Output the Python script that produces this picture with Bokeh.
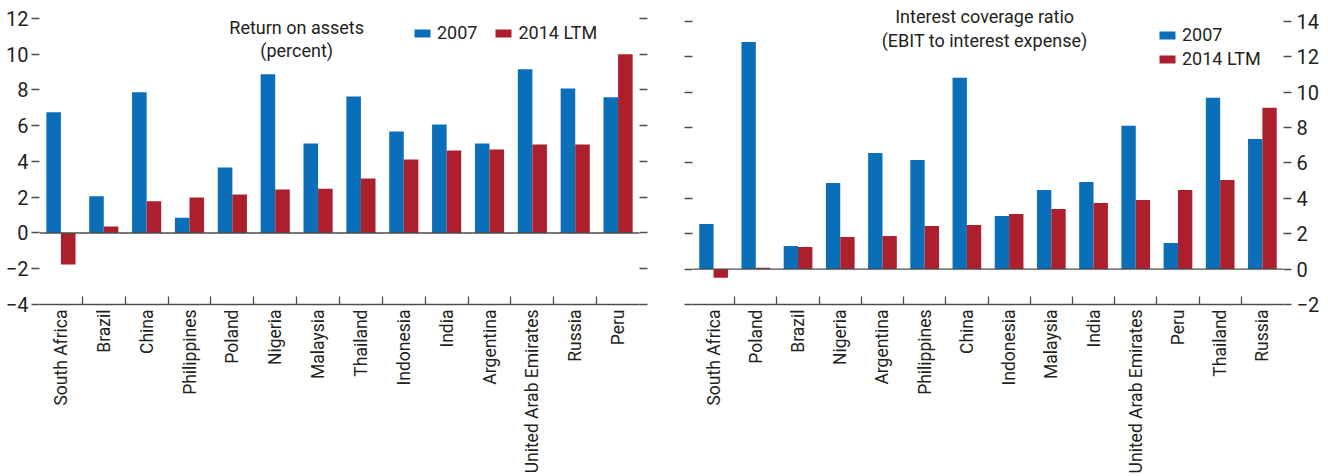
import numpy as np
from bokeh.plotting import figure
from bokeh.layouts import row
from bokeh.models import Range1d, LinearAxis, FixedTicker, Span, Label, Legend, LegendItem
from bokeh.embed import file_html
from bokeh.resources import INLINE

# ---------------- data ----------------
roa_countries = ["South Africa", "Brazil", "China", "Philippines", "Poland", "Nigeria", "Malaysia",
                 "Thailand", "Indonesia", "India", "Argentina", "United Arab Emirates", "Russia", "Peru"]
roa_2007 = [6.75, 2.05, 7.87, 0.86, 3.66, 8.88, 5.01, 7.64, 5.68, 6.07, 5.01, 9.16, 8.09, 7.59]
roa_2014 = [-1.76, 0.37, 1.77, 1.98, 2.15, 2.43, 2.48, 3.05, 4.11, 4.61, 4.67, 4.95, 4.95, 10.0]
roa_ticks = [-4, -2, 0, 2, 4, 6, 8, 10, 12]

icr_countries = ["South Africa", "Poland", "Brazil", "Nigeria", "Argentina", "Philippines", "China",
                 "Indonesia", "Malaysia", "India", "United Arab Emirates", "Peru", "Thailand", "Russia"]
icr_2007 = [2.55, 12.84, 1.30, 4.87, 6.57, 6.17, 10.82, 3.00, 4.47, 4.93, 8.10, 1.47, 9.68, 7.36]
icr_2014 = [-0.49, 0.08, 1.25, 1.81, 1.87, 2.43, 2.49, 3.11, 3.40, 3.74, 3.91, 4.47, 5.04, 9.12]
icr_ticks = [-2, 0, 2, 4, 6, 8, 10, 12, 14]

series_labels = ["2007", "2014 LTM"]

# ---------------- style ----------------
BLUE = "#0A6FB8"
RED = "#AC1F2D"
TXT = "#231f20"
AX = "#4d4d4d"
FONT = "Roboto"
FS = "18px"


def minus(v):
    return ("\u2212%d" % abs(v)) if v < 0 else "%d" % v


def make_panel(countries, v07, v14, ticks, y_end, w, h, top, bottom, left, right, label_side):
    n = len(countries)
    p = figure(width=w, height=h, title=None,
               x_range=Range1d(0, n), y_range=Range1d(ticks[0], y_end),
               x_axis_location=None, y_axis_location=None,
               output_backend="svg", toolbar_location=None,
               min_border_top=top, min_border_left=left, min_border_right=right,
               min_border_bottom=bottom)
    p.outline_line_color = None
    p.grid.visible = False
    p.background_fill_color = "white"
    p.border_fill_color = "white"

    centers = np.arange(n) + 0.5
    r07 = p.vbar(x=centers - 0.17, top=v07, bottom=0, width=0.34,
                 fill_color=BLUE, line_color=None)
    r14 = p.vbar(x=centers + 0.17, top=v14, bottom=0, width=0.34,
                 fill_color=RED, line_color=None)

    p.add_layout(Span(location=0, dimension="width", line_color=AX, line_width=1.4))

    # category axis: labels at centres, ticks at the boundaries (minor ticks)
    xax = LinearAxis(ticker=FixedTicker(ticks=list(centers), minor_ticks=list(range(1, n))),
                     major_label_overrides={float(c): name for c, name in zip(centers, countries)},
                     major_label_orientation=np.pi / 2,
                     major_tick_line_color=None, major_tick_out=0, major_tick_in=0,
                     minor_tick_line_color=AX, minor_tick_line_width=1.3,
                     minor_tick_in=8, minor_tick_out=0,
                     axis_line_color=AX, axis_line_width=1.3,
                     major_label_standoff=5,
                     major_label_text_font=FONT, major_label_text_font_size="17.5px",
                     major_label_text_color=TXT)
    p.add_layout(xax, "below")

    overrides = {t: minus(t) for t in ticks}
    for side in ("left", "right"):
        show = side == label_side
        yax = LinearAxis(ticker=FixedTicker(ticks=ticks, minor_ticks=[]),
                         major_label_overrides=overrides,
                         axis_line_color=None,
                         major_tick_line_color=AX, major_tick_line_width=1.3,
                         major_tick_out=8, major_tick_in=0,
                         minor_tick_line_color=None,
                         major_label_standoff=3 if side == "left" else 5,
                         major_label_text_font=FONT,
                         major_label_text_font_size="20px" if show else "0px",
                         major_label_text_color=TXT if show else None)
        p.add_layout(yax, side)
    return p, r07, r14


# ---------------- left panel ----------------
p1, a1, b1 = make_panel(roa_countries, roa_2007, roa_2014, roa_ticks, 12.727,
                        660, 476, 5, 172, 39, 21, "left")
for txt, yv in (("Return on assets", 11.51), ("(percent)", 10.21)):
    p1.add_layout(Label(x=6.0, y=yv, text=txt, text_align="center", text_baseline="alphabetic",
                        text_font=FONT, text_font_size=FS, text_color=TXT))
leg1 = Legend(items=[LegendItem(label=series_labels[0], renderers=[a1]),
                     LegendItem(label=series_labels[1], renderers=[b1])],
              location=(373, 261), orientation="horizontal",
              glyph_width=20, glyph_height=10, label_standoff=5, spacing=16,
              padding=0, margin=0, border_line_color=None, background_fill_alpha=0,
              label_text_font=FONT, label_text_font_size=FS, label_text_color=TXT)
p1.add_layout(leg1)

# ---------------- right panel ----------------
p2, a2, b2 = make_panel(icr_countries, icr_2007, icr_2014, icr_ticks, 14.9,
                        668, 476, 5, 172, 32, 45, "right")
for txt, yv in (("Interest coverage ratio", 14.27), ("(EBIT to interest expense)", 12.94)):
    p2.add_layout(Label(x=6.92, y=yv, text=txt, text_align="center", text_baseline="alphabetic",
                        text_font=FONT, text_font_size=FS, text_color=TXT))
leg2 = Legend(items=[LegendItem(label=series_labels[0], renderers=[a2]),
                     LegendItem(label=series_labels[1], renderers=[b2])],
              location=(465, 235), orientation="vertical",
              glyph_width=20, glyph_height=10, label_standoff=5, spacing=3,
              padding=0, margin=0, border_line_color=None, background_fill_alpha=0,
              label_text_font=FONT, label_text_font_size=FS, label_text_color=TXT)
p2.add_layout(leg2)

layout = row(p1, p2)
open("out.html", "w").write(file_html(layout, INLINE))
